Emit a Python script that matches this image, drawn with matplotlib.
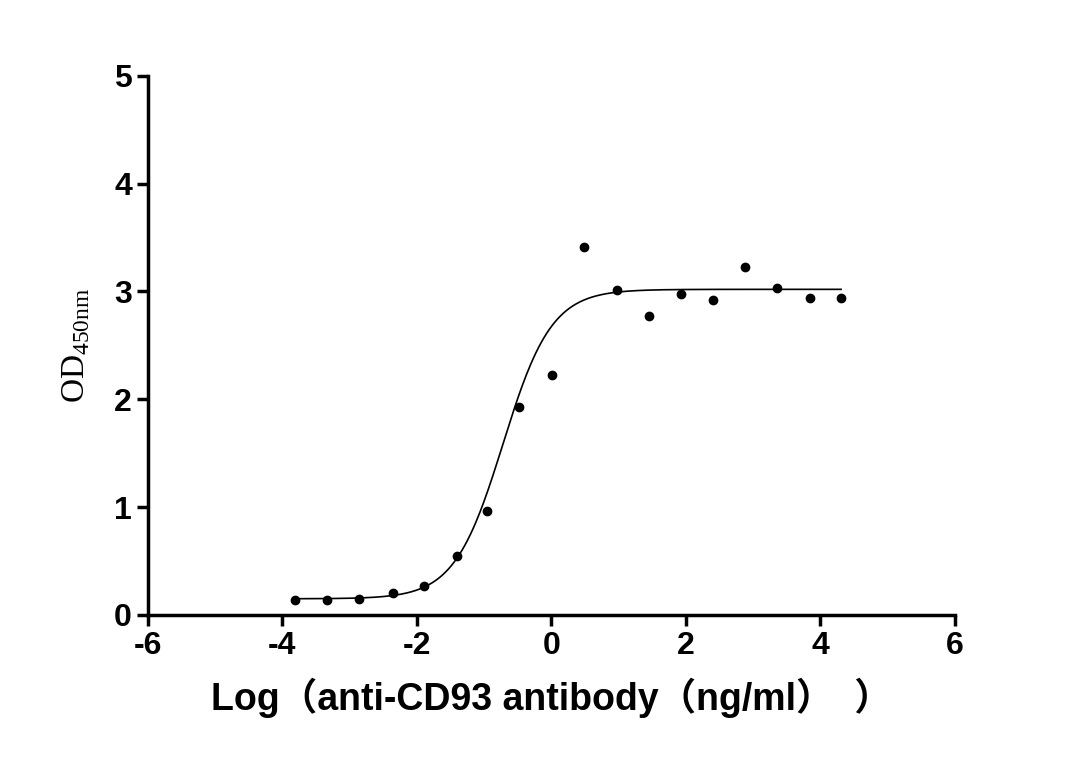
import numpy as np
import matplotlib
matplotlib.use("Agg")
import matplotlib.pyplot as plt
plt.rcParams["axes.unicode_minus"] = False

log_conc = [-3.81, -3.33, -2.86, -2.36, -1.89, -1.41, -0.95, -0.48, 0.01, 0.49,
            0.98, 1.46, 1.93, 2.41, 2.88, 3.36, 3.84, 4.31]
od450 = [0.14, 0.14, 0.15, 0.20, 0.27, 0.55, 0.96, 1.93, 2.23, 3.41,
         3.01, 2.77, 2.98, 2.92, 3.23, 3.03, 2.94, 2.94]
# 4PL fit parameters
bottom, top, logec50, hill = 0.15, 3.02, -0.72, 1.2

fig = plt.figure(figsize=(10.8, 7.82), dpi=100)
ax = fig.add_axes([0.137, 0.2136, 0.747, 0.6894])
xs = np.linspace(min(log_conc), max(log_conc), 400)
ys = bottom + (top - bottom) / (1 + 10 ** ((logec50 - xs) * hill))
ax.plot(xs, ys, color="black", lw=1.2)
ax.plot(log_conc, od450, "o", color="black", ms=6)
ax.set_xlim(-6, 6)
ax.set_ylim(0, 5)
ax.set_xticks([-6, -4, -2, 0, 2, 4, 6])
ax.set_yticks([0, 1, 2, 3, 4, 5])
for s in ["top", "right"]:
    ax.spines[s].set_visible(False)
for s in ["left", "bottom"]:
    ax.spines[s].set_linewidth(2.5)
ax.tick_params(direction="out", width=2.5, length=8)
for lab in ax.get_xticklabels() + ax.get_yticklabels():
    lab.set_fontfamily("Liberation Sans")
    lab.set_fontweight("bold")
    lab.set_fontsize(23)
ax.set_xlabel("Log（anti-CD93 antibody（ng/ml）  ）",
              family=["Liberation Sans", "Noto Sans CJK SC"], fontweight="bold",
              fontsize=27, labelpad=12)
ax.set_ylabel(r"OD$_{\mathregular{450nm}}$", family="Liberation Serif", fontsize=24, labelpad=16)
fig.savefig("out.png", dpi=100)
